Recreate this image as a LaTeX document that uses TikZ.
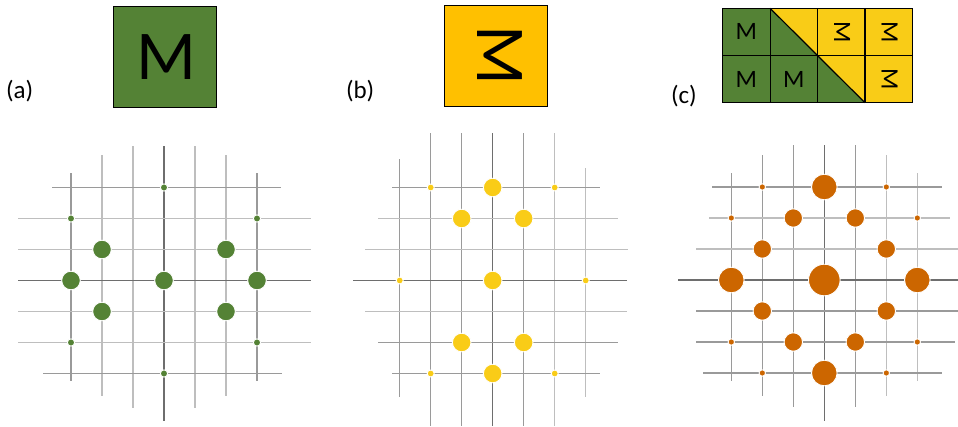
\documentclass[tikz,border=0pt]{standalone}
\usepackage{fontspec}
\setmainfont{Carlito}
\usepackage{xcolor}
\usepackage{tikz}
\definecolor{mgreen}{HTML}{548235}
\definecolor{mgold}{HTML}{FFC000}
\definecolor{myellow}{HTML}{F9CC17}
\definecolor{morange}{HTML}{CC6600}
\definecolor{gridlight}{HTML}{BEBEBE}
\definecolor{gridmid}{HTML}{9A9A9A}
\definecolor{griddark}{HTML}{6E6E6E}

\begin{document}
\begin{tikzpicture}[
  x=1pt, y=1pt,
  gline/.style={line width=1.3pt},
  bigbox/.style={rectangle, draw=black, line width=1.4pt,
    minimum width=103pt, minimum height=101pt, inner sep=0pt},
  bigletter/.style={font=\fontsize{70}{84}\selectfont, inner sep=0pt},
  tileletter/.style={font=\fontsize{25}{30}\selectfont, inner sep=0pt},
  panellabel/.style={font=\fontsize{25}{30}\selectfont, anchor=base west, inner sep=0pt},
  spot/.style={draw=white, line width=0.9pt},
  tileline/.style={draw=black, line width=1.2pt},
]
\useasboundingbox (0,0) rectangle (958,-426);

% Labels
\node[panellabel] (labA) at (5.8,-98.5) {(a)};
\node[panellabel] (labB) at (345.8,-98.5) {(b)};
\node[panellabel] (labC) at (670.8,-103.3) {(c)};

% (a) motif
\node[bigbox, fill=mgreen] (boxA) at (165,-56.7) {};
\node[bigletter] (mA) at (166.5,-57) {M};

% (b) motif, turned
\node[bigbox, fill=mgold] (boxB) at (495.8,-55.7) {};
\node[bigletter, rotate=-90] (mB) at (500,-55.5) {M};

% (c) tiles
\fill[mgreen] (722.7,-8.3) rectangle (770.1,-102.7);
\fill[mgreen] (770.1,-55.5) rectangle (817.5,-102.7);
\fill[mgreen] (770.1,-8.3) -- (817.5,-55.5) -- (770.1,-55.5) -- cycle;
\fill[myellow] (770.1,-8.3) -- (817.5,-8.3) -- (817.5,-55.5) -- cycle;
\fill[myellow] (817.5,-8.3) rectangle (912.3,-55.5);
\fill[mgreen] (817.5,-55.5) -- (864.9,-102.7) -- (817.5,-102.7) -- cycle;
\fill[myellow] (817.5,-55.5) -- (864.9,-55.5) -- (864.9,-102.7) -- cycle;
\fill[myellow] (864.9,-55.5) rectangle (912.3,-102.7);
\foreach \x in {722.7,770.1,817.5,864.9,912.3}
  \draw[tileline] (\x,-8.3) -- (\x,-102.7);
\foreach \y in {8.3,55.5,102.7}
  \draw[tileline] (722.7,-\y) -- (912.3,-\y);
\draw[tileline] (770.1,-8.3) -- (864.9,-102.7);
\node[tileletter] (t11) at (746.4,-31.9) {M};
\node[tileletter] (t21) at (746.4,-79.1) {M};
\node[tileletter] (t22) at (793.8,-79.1) {M};
\node[tileletter, rotate=-90] (t13) at (842.2,-31.9) {M};
\node[tileletter, rotate=-90] (t14) at (889.6,-31.9) {M};
\node[tileletter, rotate=-90] (t24) at (889.6,-79.1) {M};

% (a) lattice
\foreach \i/\t/\b/\c in {-3/173/381/gridmid, -2/155/396/gridlight, -1/146/408/gridlight,
    0/146/421/griddark, 1/146/408/gridlight, 2/155/396/gridlight, 3/173/381/gridmid}
  \draw[gline, draw=\c] (164+31*\i,-\t) -- (164+31*\i,-\b);
\foreach \j/\l/\r/\c in {-3/52/281/gridmid, -2/18/311/gridlight, -1/18/311/gridlight,
    0/18/311/griddark, 1/18/311/gridlight, 2/18/311/gridlight, 3/43/282/gridmid}
  \draw[gline, draw=\c] (\l,-280.5-31*\j) -- (\r,-280.5-31*\j);
\foreach \i/\j/\r in {0/-3/3.6, -3/-2/3.6, 3/-2/3.6, -3/2/3.6, 3/2/3.6, 0/3/3.6,
    -2/-1/9.3, 2/-1/9.3, -3/0/9.3, 0/0/9.3, 3/0/9.3, -2/1/9.3, 2/1/9.3}
  \filldraw[spot, fill=mgreen] (164+31*\i,-280.5-31*\j) circle (\r);

% (b) lattice
\foreach \i/\t/\b/\c in {-3/159/397/gridmid, -2/133/426/gridmid, -1/133/426/gridmid,
    0/133/426/griddark, 1/133/426/gridmid, 2/133/426/gridlight, 3/168/397/gridlight}
  \draw[gline, draw=\c] (492.7+31*\i,-\t) -- (492.7+31*\i,-\b);
\foreach \j/\l/\r/\c in {-3/392/600/gridmid, -2/378/618/gridlight, -1/365/628/gridlight,
    0/353/627/griddark, 1/365/627/gridlight, 2/378/618/gridmid, 3/392/600/gridmid}
  \draw[gline, draw=\c] (\l,-280.5-31*\j) -- (\r,-280.5-31*\j);
\foreach \i/\j/\r in {-2/-3/3.5, 2/-3/3.5, -3/0/3.5, 3/0/3.5, -2/3/3.5, 2/3/3.5,
    0/-3/9.3, -1/-2/9.3, 1/-2/9.3, 0/0/9.3, -1/2/9.3, 1/2/9.3, 0/3/9.3}
  \filldraw[spot, fill=myellow] (492.7+31*\i,-280.5-31*\j) circle (\r);

% (c) lattice
\foreach \i/\t/\b/\c in {-3/173/381/gridmid, -2/155/396/gridmid, -1/145/407/gridmid,
    0/145/421/griddark, 1/145/407/gridmid, 2/155/396/gridlight, 3/173/381/gridlight}
  \draw[gline, draw=\c] (824.3+31*\i,-\t) -- (824.3+31*\i,-\b);
\foreach \j/\l/\r/\c in {-3/712/942/gridmid, -2/709/950/gridlight, -1/696/958/gridlight,
    0/678/958/griddark, 1/696/958/gridmid, 2/696/955/gridmid, 3/703/942/gridmid}
  \draw[gline, draw=\c] (\l,-280-31*\j) -- (\r,-280-31*\j);
\foreach \i/\j/\r in {-2/-3/3.2, 2/-3/3.2, -3/-2/3.2, 3/-2/3.2, -3/2/3.2, 3/2/3.2, -2/3/3.2, 2/3/3.2,
    -1/-2/9.2, 1/-2/9.2, -2/-1/9.2, 2/-1/9.2, -2/1/9.2, 2/1/9.2, -1/2/9.2, 1/2/9.2,
    0/-3/12.8, -3/0/12.8, 3/0/12.8, 0/3/12.8, 0/0/15.8}
  \filldraw[spot, fill=morange] (824.3+31*\i,-280-31*\j) circle (\r);
\end{tikzpicture}
\end{document}
